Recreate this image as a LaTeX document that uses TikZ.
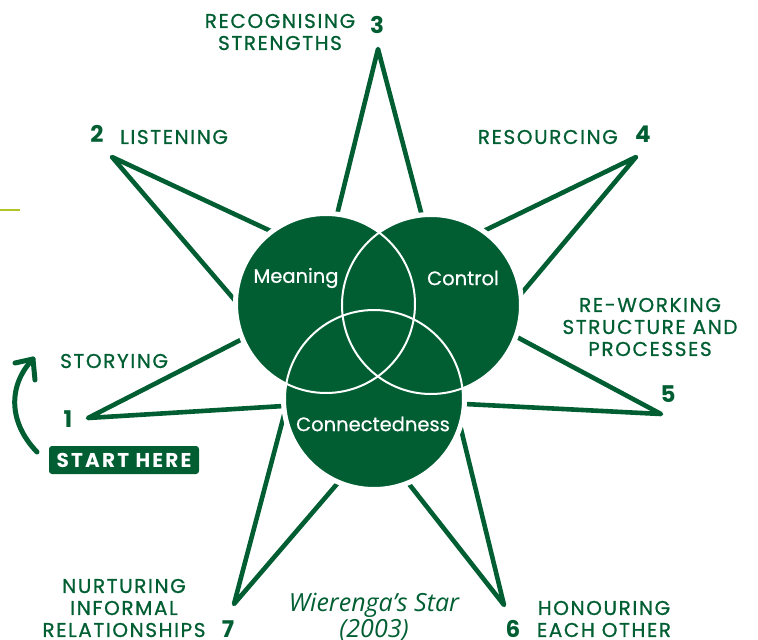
\documentclass[tikz,border=0pt]{standalone}
\usepackage{fontspec}
\setmainfont{Poppins}
\newfontfamily\capsfont{Poppins}[LetterSpace=8,FakeBold=0.8]
\newfontfamily\startfont{Poppins}[LetterSpace=11]
\newfontfamily\ringfont{Poppins}[FakeBold=0.6]
\newfontfamily\notefont{Open Sans}
\definecolor{stargreen}{RGB}{0,94,50}
\definecolor{rulelime}{RGB}{178,196,40}

\begin{document}
\begin{tikzpicture}
	[x=1pt,y=-1pt,
	ray/.style={draw=stargreen,line width=4.6,line cap=round,line join=round},
	halo/.style={fill=white},
	disc/.style={fill=stargreen},
	rim/.style={draw=white,line width=2},
	ringtext/.style={text=white,inner sep=0,font=\ringfont\fontsize{19.5}{19.5}\selectfont},
	phase/.style={text=stargreen,align=center,inner sep=0,font=\capsfont\fontsize{20}{22}\selectfont},
	phasenum/.style={text=stargreen,inner sep=0,font=\fontsize{23}{23}\selectfont\bfseries}]
	\useasboundingbox (0,0) rectangle (758,640);
	\draw[rulelime,line width=1.2] (0,210) -- (20,210);
	\coordinate (p1) at (88,418);
	\coordinate (p2) at (112,157);
	\coordinate (p3) at (378,49);
	\coordinate (p4) at (636,157);
	\coordinate (p5) at (661,414);
	\coordinate (p6) at (504,605);
	\coordinate (p7) at (234,604);
	\coordinate (cM) at (326,304);
	\coordinate (cC) at (431,305);
	\coordinate (cN) at (374,399);
	\draw[ray] (300,405) -- (p1) -- (260,330);
	\draw[ray] (290,240) -- (p2) -- (250,318);
	\draw[ray] (332,235) -- (p3) -- (427,235);
	\draw[ray] (465,240) -- (p4) -- (505,313);
	\draw[ray] (500,328) -- (p5) -- (445,403);
	\draw[ray] (449,380) -- (p6) -- (398,470);
	\draw[ray] (349,470) -- (p7) -- (288,400);
	\foreach \c in {cM,cC,cN}
		\fill[halo] (\c) circle[radius=93];
	\foreach \c in {cM,cC,cN}
		\fill[disc] (\c) circle[radius=89];
	\foreach \c in {cM,cC,cN}
		\draw[rim] (\c) circle[radius=89];
	\node[ringtext] (meaning) at (296,278) {Meaning};
	\node[ringtext] (control) at (463,278) {Control};
	\node[ringtext] (connect) at (373,424) {Connectedness};
	\node[phase] (recog) at (280,32) {RECOGNISING\\STRENGTHS};
	\node[phasenum] (n3) at (377,25) {3};
	\node[phasenum] (n2) at (97,134) {2};
	\node[phase,anchor=west] (listen) at (120,137) {LISTENING};
	\node[phase,anchor=east] (resource) at (618,137) {RESOURCING};
	\node[phasenum] (n4) at (643,134) {4};
	\node[phase] (rework) at (650,327) {RE-WORKING\\STRUCTURE AND\\PROCESSES};
	\node[phasenum] (n5) at (668,394) {5};
	\node[phase,anchor=west] (story) at (60,361) {STORYING};
	\node[phasenum] (n1) at (68,419) {1};
	\node[fill=stargreen,rounded corners=3,minimum width=150,minimum height=28,inner sep=0,
		text=white,font=\startfont\fontsize{20}{20}\selectfont\bfseries] (start) at (124,460) {START HERE};
	\coordinate (a0) at (37,452);
	\coordinate (a1) at (33,359);
	\draw[ray,line width=5] (a0) .. controls (8,422) and (8,385) .. (a1);
	\draw[ray,line width=5] (15,363) -- (a1) -- (35,380);
	\node[phase] (nurture) at (124,608) {NURTURING\\INFORMAL\\RELATIONSHIPS};
	\node[phasenum] (n7) at (228,629) {7};
	\node[text=stargreen,align=center,inner sep=0,font=\notefont\itshape\fontsize{25}{26}\selectfont] (star) at (374,617) {Wierenga’s Star\\(2003)};
	\node[phasenum] (n6) at (513,629) {6};
	\node[phase] (honour) at (604,619) {HONOURING\\EACH OTHER};
\end{tikzpicture}
\end{document}
